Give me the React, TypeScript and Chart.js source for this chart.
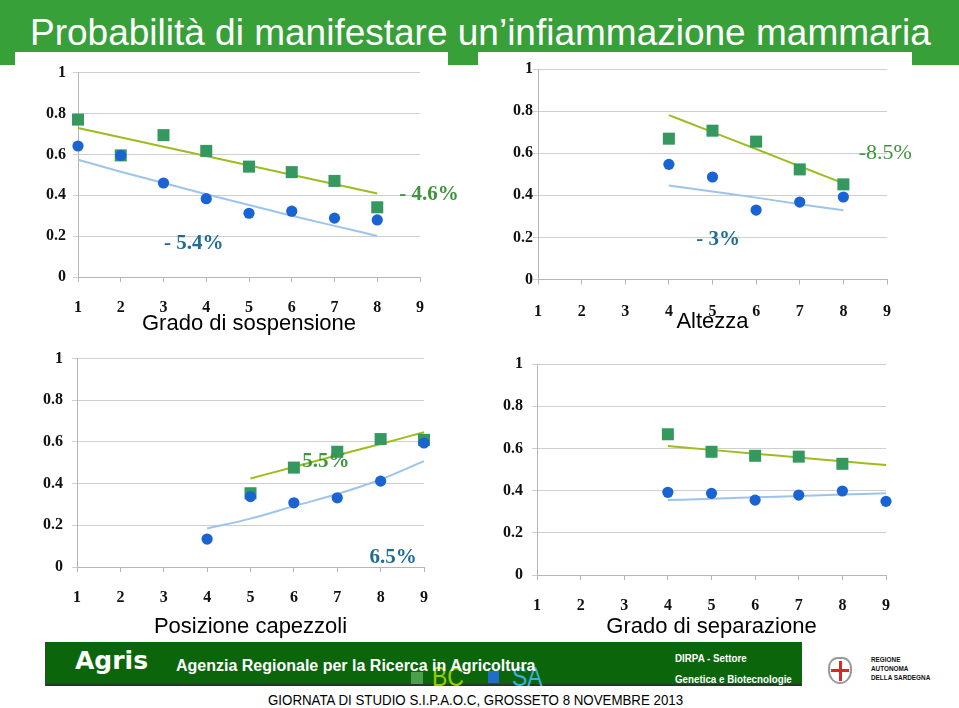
import React, { useEffect, useRef } from "react";
import { Chart, registerables } from "chart.js";

Chart.register(...registerables);

// ---------- shared tick labels ----------
const xTickLabels = ["1", "2", "3", "4", "5", "6", "7", "8", "9"];
const yTickLabels = ["0", "0.2", "0.4", "0.6", "0.8", "1"];

// ---------- Grado di sospensione ----------
const sospBCX = [1, 2, 3, 4, 5, 6, 7, 8];
const sospBC = [0.77, 0.595, 0.694, 0.617, 0.54, 0.513, 0.47, 0.341];
const sospSAX = [1, 2, 3, 4, 5, 6, 7, 8];
const sospSA = [0.641, 0.595, 0.46, 0.383, 0.312, 0.322, 0.288, 0.279];
const sospTrendBCX = [1, 8];
const sospTrendBC = [0.729, 0.409];
const sospTrendSAX = [1, 2, 3, 4, 5, 6, 7, 8];
const sospTrendSA = [0.574, 0.515, 0.46, 0.405, 0.352, 0.3, 0.25, 0.201];
const sospNotes = ["- 4.6%", "- 5.4%"];

// ---------- Altezza ----------
const altBCX = [4, 5, 6, 7, 8];
const altBC = [0.669, 0.707, 0.655, 0.523, 0.452];
const altSAX = [4, 5, 6, 7, 8];
const altSA = [0.547, 0.487, 0.33, 0.368, 0.392];
const altTrendBCX = [4, 5, 6, 7, 8];
const altTrendBC = [0.781, 0.7, 0.62, 0.538, 0.457];
const altTrendSAX = [4, 5, 6, 7, 8];
const altTrendSA = [0.447, 0.418, 0.389, 0.358, 0.329];
const altNotes = ["-8.5%", "- 3%"];

// ---------- Posizione capezzoli ----------
const capBCX = [5, 6, 7, 8, 9];
const capBC = [0.354, 0.477, 0.553, 0.614, 0.61];
const capSAX = [4, 5, 6, 7, 8, 9];
const capSA = [0.134, 0.338, 0.308, 0.332, 0.412, 0.595];
const capTrendBCX = [5, 6, 7, 8, 9];
const capTrendBC = [0.425, 0.48, 0.536, 0.59, 0.647];
const capTrendSAX = [4, 5, 6, 7, 8, 9];
const capTrendSA = [0.185, 0.232, 0.292, 0.35, 0.42, 0.508];
const capNotes = ["5.5%", "6.5%"];

// ---------- Grado di separazione ----------
const sepBCX = [4, 5, 6, 7, 8];
const sepBC = [0.667, 0.584, 0.565, 0.561, 0.527];
const sepSAX = [4, 5, 6, 7, 8, 9];
const sepSA = [0.392, 0.387, 0.355, 0.379, 0.398, 0.349];
const sepTrendBCX = [4, 5, 6, 7, 8, 9];
const sepTrendBC = [0.611, 0.593, 0.575, 0.557, 0.539, 0.521];
const sepTrendSAX = [4, 5, 6, 7, 8, 9];
const sepTrendSA = [0.355, 0.361, 0.368, 0.374, 0.381, 0.387];
const sepNotes: string[] = [];

const seriesNames = ["BC", "SA"];

// ---------- styles ----------
const SERIF = "'Liberation Serif', 'Times New Roman', serif";
const SANS = "'Liberation Sans', Arial, sans-serif";
const BC_MARK = "#35995f";
const SA_MARK = "#1a63d3";
const BC_LINE = "#9bbd1e";
const SA_LINE = "#9cc4ec";
const BC_TEXT = "#3d953d";
const SA_TEXT = "#1f6d96";
const GRID = "#cfcfcf";
const AXIS = "#b5b5b5";

type Note = { text: string; x: number; y: number; color: string; font: string };

type Panel = {
  title: string;
  left: number;
  top: number;
  w: number;
  h: number;
  yAxisWidth: number;
  yPad: number;
  padTop: number;
  padRight: number;
  xAxisHeight: number;
  labelOffset: number;
  titleCenter: number;
  bcX: number[];
  bc: number[];
  saX: number[];
  sa: number[];
  tBCX: number[];
  tBC: number[];
  tSAX: number[];
  tSA: number[];
  notes: Note[];
};

const panels: Panel[] = [
  {
    title: "Grado di sospensione",
    left: 18, top: 56, w: 460, h: 284,
    yAxisWidth: 60, yPad: 7, padTop: 13, padRight: 58, xAxisHeight: 63,
    labelOffset: 31, titleCenter: 268,
    bcX: sospBCX, bc: sospBC, saX: sospSAX, sa: sospSA,
    tBCX: sospTrendBCX, tBC: sospTrendBC, tSAX: sospTrendSAX, tSA: sospTrendSA,
    notes: [
      { text: sospNotes[0], x: 9.21, y: 0.404, color: BC_TEXT, font: `bold 21px ${SERIF}` },
      { text: sospNotes[1], x: 3.71, y: 0.163, color: SA_TEXT, font: `bold 21px ${SERIF}` },
    ],
  },
  {
    title: "Altezza",
    left: 478, top: 56, w: 434, h: 284,
    yAxisWidth: 60, yPad: 0, padTop: 13, padRight: 25, xAxisHeight: 60.5,
    labelOffset: 32, titleCenter: 266,
    bcX: altBCX, bc: altBC, saX: altSAX, sa: altSA,
    tBCX: altTrendBCX, tBC: altTrendBC, tSAX: altTrendSAX, tSA: altTrendSA,
    notes: [
      { text: altNotes[0], x: 8.96, y: 0.601, color: BC_TEXT, font: `22px ${SERIF}` },
      { text: altNotes[1], x: 5.13, y: 0.188, color: SA_TEXT, font: `bold 21px ${SERIF}` },
    ],
  },
  {
    title: "Posizione capezzoli",
    left: 18, top: 340, w: 430, h: 300,
    yAxisWidth: 59, yPad: 9, padTop: 16, padRight: 24, xAxisHeight: 73,
    labelOffset: 31, titleCenter: 287,
    bcX: capBCX, bc: capBC, saX: capSAX, sa: capSA,
    tBCX: capTrendBCX, tBC: capTrendBC, tSAX: capTrendSAX, tSA: capTrendSA,
    notes: [
      { text: capNotes[0], x: 6.74, y: 0.508, color: BC_TEXT, font: `bold 21px ${SERIF}` },
      { text: capNotes[1], x: 8.29, y: 0.047, color: SA_TEXT, font: `bold 21px ${SERIF}` },
    ],
  },
  {
    title: "Grado di separazione",
    left: 478, top: 340, w: 434, h: 300,
    yAxisWidth: 59, yPad: 9, padTop: 24, padRight: 26, xAxisHeight: 65,
    labelOffset: 31, titleCenter: 287,
    bcX: sepBCX, bc: sepBC, saX: sepSAX, sa: sepSA,
    tBCX: sepTrendBCX, tBC: sepTrendBC, tSAX: sepTrendSAX, tSA: sepTrendSA,
    notes: sepNotes.map((t) => ({ text: t, x: 5, y: 0.1, color: SA_TEXT, font: `bold 21px ${SERIF}` })),
  },
];

const pts = (xs: number[], ys: number[]) => xs.map((x, i) => ({ x, y: ys[i] }));

function buildConfig(p: Panel): any {
  const tickFont = { family: SERIF, size: 16, weight: "bold" as const };
  const tickLen = 5;
  const notesPlugin = {
    id: "notes",
    afterDraw(chart: any) {
      const { ctx, scales } = chart;
      ctx.save();
      for (const n of p.notes) {
        ctx.font = n.font;
        ctx.fillStyle = n.color;
        ctx.textAlign = "center";
        ctx.textBaseline = "middle";
        ctx.fillText(n.text, scales.x.getPixelForValue(n.x), scales.y.getPixelForValue(n.y));
      }
      ctx.restore();
    },
  };
  return {
    type: "scatter",
    data: {
      datasets: [
        {
          label: seriesNames[1],
          data: pts(p.saX, p.sa),
          pointStyle: "circle",
          pointRadius: 5.6,
          pointBackgroundColor: SA_MARK,
          pointBorderWidth: 0,
          showLine: false,
          clip: false,
        },
        {
          label: seriesNames[0],
          data: pts(p.bcX, p.bc),
          pointStyle: "rect",
          pointRadius: 8.5,
          pointBackgroundColor: BC_MARK,
          pointBorderWidth: 0,
          showLine: false,
          clip: false,
        },
        {
          label: seriesNames[0] + " trend",
          data: pts(p.tBCX, p.tBC),
          showLine: true,
          pointRadius: 0,
          borderColor: BC_LINE,
          borderWidth: 2,
          cubicInterpolationMode: "monotone",
          clip: false,
        },
        {
          label: seriesNames[1] + " trend",
          data: pts(p.tSAX, p.tSA),
          showLine: true,
          pointRadius: 0,
          borderColor: SA_LINE,
          borderWidth: 2,
          cubicInterpolationMode: "monotone",
          clip: false,
        },
      ],
    },
    options: {
      responsive: false,
      animation: false,
      events: [],
      layout: { padding: { top: p.padTop, right: p.padRight, left: 0, bottom: 0 } },
      plugins: {
        legend: { display: false },
        tooltip: { enabled: false },
        title: { display: false },
      },
      scales: {
        x: {
          type: "linear",
          min: 1,
          max: 9,
          ticks: {
            stepSize: 1,
            autoSkip: false,
            maxRotation: 0,
            font: tickFont,
            color: "#111",
            padding: p.labelOffset - tickLen - 9.6,
            callback: (v: number) => xTickLabels[Math.round(v) - 1],
          },
          grid: { drawOnChartArea: false, drawTicks: true, tickLength: tickLen, color: AXIS },
          border: { color: AXIS },
          title: {
            display: true,
            text: p.title,
            color: "#000",
            font: { family: SANS, size: 22, lineHeight: 1 },
            padding: { top: 0, bottom: p.h - p.titleCenter - 11 },
          },
          afterFit: (s: any) => {
            s.height = p.xAxisHeight;
          },
        },
        y: {
          type: "linear",
          min: 0,
          max: 1,
          ticks: {
            stepSize: 0.2,
            font: tickFont,
            color: "#111",
            padding: p.yPad,
            callback: (v: number) => yTickLabels[Math.round(v * 5)],
          },
          grid: { color: GRID, tickLength: tickLen },
          border: { color: AXIS },
          afterFit: (s: any) => {
            s.width = p.yAxisWidth;
          },
        },
      },
    },
    plugins: [notesPlugin],
  };
}

function ChartPanel({ p }: { p: Panel }) {
  const ref = useRef<HTMLCanvasElement | null>(null);
  useEffect(() => {
    if (!ref.current) return;
    const chart = new Chart(ref.current, buildConfig(p));
    return () => chart.destroy();
  }, [p]);
  return (
    <canvas
      ref={ref}
      width={p.w}
      height={p.h}
      style={{ position: "absolute", left: p.left, top: p.top, width: p.w, height: p.h, display: "block" }}
    />
  );
}

const abs = (l: number, t: number, extra: React.CSSProperties = {}): React.CSSProperties => ({
  position: "absolute",
  left: l,
  top: t,
  whiteSpace: "nowrap",
  ...extra,
});

export default function App() {
  return (
    <div
      style={{
        position: "absolute",
        left: 0,
        top: 0,
        width: 959,
        height: 708,
        background: "#fff",
        overflow: "hidden",
        fontFamily: SANS,
      }}
    >
      {/* title bar */}
      <div style={abs(0, 0, { width: 959, height: 65, background: "#37a039" })} />
      <div style={abs(15, 52, { width: 433, height: 20, background: "#fff" })} />
      <div style={abs(478, 52, { width: 434, height: 20, background: "#fff" })} />
      <div style={abs(30, 11, { fontSize: 37, lineHeight: "44px", color: "#fff" })}>
        Probabilità di manifestare un’infiammazione mammaria
      </div>

      {panels.map((p, i) => (
        <ChartPanel key={i} p={p} />
      ))}

      {/* footer */}
      <div
        style={abs(45, 642, {
          width: 757,
          height: 44,
          background: "#0b650b",
          boxSizing: "border-box",
          borderLeft: "1px solid #2a4a2a",
          borderBottom: "2px solid #1d3d1d",
        })}
      />
      <div style={abs(411, 672, { width: 12, height: 12, background: "#4a9f4a" })} />
      <div style={abs(432, 660, { fontSize: 28, lineHeight: "34px", color: "#99cc00", transform: "scaleX(0.82)", transformOrigin: "left" })}>
        {seriesNames[0]}
      </div>
      <div style={abs(488, 671, { width: 11, height: 12, background: "#1f6fc8" })} />
      <div style={abs(512, 660, { fontSize: 28, lineHeight: "34px", color: "#3aaee0", transform: "scaleX(0.82)", transformOrigin: "left" })}>
        {seriesNames[1]}
      </div>
      <div style={abs(75, 646, { fontFamily: "'DejaVu Sans', Verdana, sans-serif", fontWeight: "bold", fontSize: 25, lineHeight: "30px", color: "#fff" })}>
        Agris
      </div>
      <div style={abs(176, 656, { fontWeight: "bold", fontSize: 16, lineHeight: "20px", color: "#fff" })}>
        Agenzia Regionale per la Ricerca in Agricoltura
      </div>
      <div style={abs(675, 650, { fontWeight: "bold", fontSize: 11.5, lineHeight: "16px", color: "#fff", transform: "scaleX(0.85)", transformOrigin: "left" })}>
        DIRPA - Settore
      </div>
      <div style={abs(675, 671, { fontWeight: "bold", fontSize: 11.5, lineHeight: "16px", color: "#fff", transform: "scaleX(0.85)", transformOrigin: "left" })}>
        Genetica e Biotecnologie
      </div>
      <div style={abs(268, 691, { fontSize: 14, lineHeight: "18px", color: "#000", transform: "scaleX(0.95)", transformOrigin: "left" })}>
        GIORNATA DI STUDIO S.I.P.A.O.C, GROSSETO 8 NOVEMBRE 2013
      </div>

      {/* regione logo */}
      <div
        style={abs(828, 657, {
          width: 24,
          height: 27,
          boxSizing: "border-box",
          border: "2px solid #9a9a9a",
          borderRadius: "40% 40% 50% 50%",
          background: "#fff",
        })}
      />
      <div style={abs(838.5, 661, { width: 3, height: 20, background: "#d42a2a" })} />
      <div style={abs(831, 669, { width: 18, height: 3, background: "#d42a2a" })} />
      <div style={abs(871, 655, { fontWeight: "bold", fontSize: 7.5, lineHeight: "9px", color: "#111", transform: "scaleX(0.85)", transformOrigin: "left" })}>
        REGIONE
        <br />
        AUTONOMA
        <br />
        DELLA SARDEGNA
      </div>
    </div>
  );
}
